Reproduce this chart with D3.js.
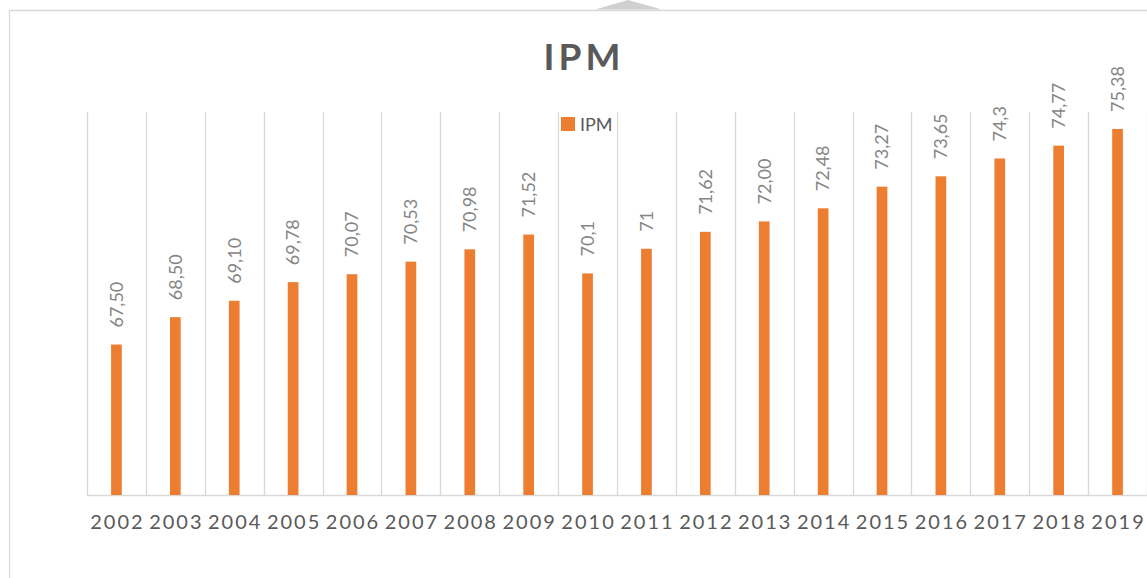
<!DOCTYPE html>
<html><head><meta charset="utf-8">
<script src="https://cdn.jsdelivr.net/npm/d3@7"></script>
<style>html,body{margin:0;padding:0;background:#fff;}svg{display:block;}</style>
</head><body>
<svg id="c" width="1147" height="578"></svg>
<script>
const years = ["2002","2003","2004","2005","2006","2007","2008","2009","2010","2011","2012","2013","2014","2015","2016","2017","2018","2019"];
const ipm = [67.50,68.50,69.10,69.78,70.07,70.53,70.98,71.52,70.1,71,71.62,72.00,72.48,73.27,73.65,74.3,74.77,75.38];
const ipmLabels = ["67,50","68,50","69,10","69,78","70,07","70,53","70,98","71,52","70,1","71","71,62","72,00","72,48","73,27","73,65","74,3","74,77","75,38"];
const yDomain = [62, 76];

const svg = d3.select("#c");
const pL = 87, pR = 1147, pT = 112, pB = 495;
const x = d3.scaleBand().domain(years).range([pL, pR]).paddingInner(0).paddingOuter(0);
const y = d3.scaleLinear().domain(yDomain).range([pB, pT]);

// outer chart border (partial)
svg.append("path").attr("d","M9.5,578 L9.5,10.5 L1147,10.5").attr("fill","none").attr("stroke","#d9d9d9").attr("stroke-width",1.3);
// scan artifact triangle at top
svg.append("path").attr("d","M595,9.5 L628,0 L662,9.5 Z").attr("fill","#d0d0d0");

// vertical gridlines at category boundaries
const bounds = years.map(d => x(d)).concat([pR]);
svg.append("g").selectAll("line").data(bounds).join("line")
  .attr("x1", d => Math.round(d)+0.5).attr("x2", d => Math.round(d)+0.5)
  .attr("y1", pT).attr("y2", pB)
  .attr("stroke","#d9d9d9").attr("stroke-width",1.3);

// baseline axis
const xAxis = d3.axisBottom(x).tickSize(0).tickPadding(0);
const ax = svg.append("g").attr("transform",`translate(0,${pB})`).call(xAxis);
ax.select(".domain").attr("stroke","#d9d9d9").attr("stroke-width",1.5).attr("d",`M${pL},0.5H${pR}`);
ax.selectAll("text").attr("y",28).attr("dy","0.32em").attr("dx","1px")
  .attr("font-family","Lato, 'Open Sans', sans-serif").attr("font-size",20)
  .attr("letter-spacing","2px").attr("fill","#595959");

// bars
const bw = 10.7;
svg.append("g").selectAll("rect").data(ipm).join("rect")
  .attr("x",(d,i)=>x(years[i]) + x.bandwidth()/2 - bw/2)
  .attr("width",bw)
  .attr("y",d=>y(d))
  .attr("height",d=>pB - y(d))
  .attr("fill","#ed7d31");

// data labels
svg.append("g").selectAll("text").data(ipm).join("text")
  .attr("transform",(d,i)=>`translate(${x(years[i]) + x.bandwidth()/2},${y(d)-17}) rotate(-90)`)
  .attr("dy","0.35em")
  .attr("text-anchor","start")
  .attr("font-family","Lato, 'Open Sans', sans-serif").attr("font-size",18)
  .attr("fill","#858585")
  .text((d,i)=>ipmLabels[i]);

// title
svg.append("text").attr("x",584).attr("y",70).attr("text-anchor","middle")
  .attr("font-family","Lato, 'Open Sans', sans-serif").attr("font-weight","bold")
  .attr("font-size",37).attr("letter-spacing","4px").attr("fill","#595959").text("IPM");

// legend
svg.append("rect").attr("x",561).attr("y",117).attr("width",14).attr("height",14).attr("fill","#ed7d31");
svg.append("text").attr("x",580).attr("y",131)
  .attr("font-family","Lato, 'Open Sans', sans-serif").attr("font-size",18).attr("fill","#595959").text("IPM");
</script>
</body></html>
